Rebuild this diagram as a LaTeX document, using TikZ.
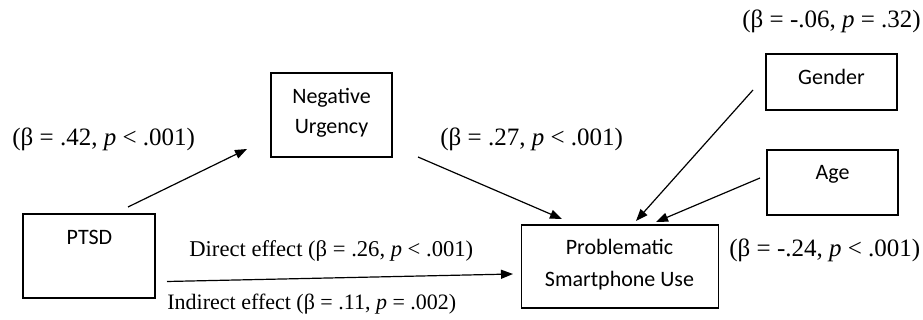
\documentclass[tikz,border=0pt]{standalone}
\usepackage{fontspec}
\setmainfont{Liberation Serif}
\newfontfamily\boxfont{Carlito}
\usetikzlibrary{arrows.meta}
\begin{document}
\begin{tikzpicture}[x=0.5pt,y=-0.5pt,
  box/.style={draw, line width=0.6pt, inner sep=0pt},
  btext/.style={font=\boxfont\fontsize{11}{13}\selectfont, inner sep=0pt, anchor=base},
  lab/.style={font=\fontsize{12.5}{14}\selectfont, inner sep=0pt, anchor=base west},
  eff/.style={font=\fontsize{11.3}{13}\selectfont, inner sep=0pt, anchor=base west},
  arr/.style={line width=0.6pt, -{Triangle[length=6pt,width=4.5pt]}}]
\useasboundingbox (0,0) rectangle (923,320);
% boxes
\node[box, minimum width=60.5pt, minimum height=42pt] (nu) at (331.5,115) {};
\node[box, minimum width=66pt, minimum height=42pt] (ptsd) at (89,256) {};
\node[box, minimum width=98.5pt, minimum height=41.5pt] (psu) at (620,266.5) {};
\node[box, minimum width=65.5pt, minimum height=28pt] (gender) at (831.5,82) {};
\node[box, minimum width=65.5pt, minimum height=32.5pt] (age) at (832.5,182.5) {};
% box texts
\node[btext] (nut1) at (331.5,104) {Negative};
\node[btext] (nut2) at (331.5,134) {Urgency};
\node[btext] (ptsdt) at (89.5,245) {PTSD};
\node[btext] (psut1) at (619.5,255) {Problematic};
\node[btext] (psut2) at (619.5,287) {Smartphone Use};
\node[btext] (gendert) at (831.5,85) {Gender};
\node[btext] (aget) at (832.5,180) {Age};
% labels
\node[lab] (l1) at (12,146) {(β = .42, \textit{p} < .001)};
\node[lab] (l2) at (440,146) {(β = .27, \textit{p} < .001)};
\node[lab] (l3) at (742,28) {(β = -.06, \textit{p} = .32)};
\node[lab] (l4) at (729,257) {(β = -.24, \textit{p} < .001)};
\node[eff] (ld) at (189,257) {Direct effect (β = .26, \textit{p} < .001)};
\node[eff, font=\fontsize{11}{13}\selectfont] (li) at (167,310) {Indirect effect (β = .11, \textit{p} = .002)};
% connector end points
\coordinate (c1) at (128,207);
\coordinate (c2) at (247,149);
\coordinate (c3) at (418,157);
\coordinate (c4) at (562,219);
\coordinate (c5) at (753,90);
\coordinate (c6) at (636,221);
\coordinate (c7) at (760,178);
\coordinate (c8) at (656,222);
\coordinate (c9) at (167,281.5);
\coordinate (c10) at (513,274);
\draw[arr] (c1) -- (c2);
\draw[arr] (c3) -- (c4);
\draw[arr] (c5) -- (c6);
\draw[arr] (c7) -- (c8);
\draw[arr] (c9) -- (c10);
\end{tikzpicture}
\end{document}
